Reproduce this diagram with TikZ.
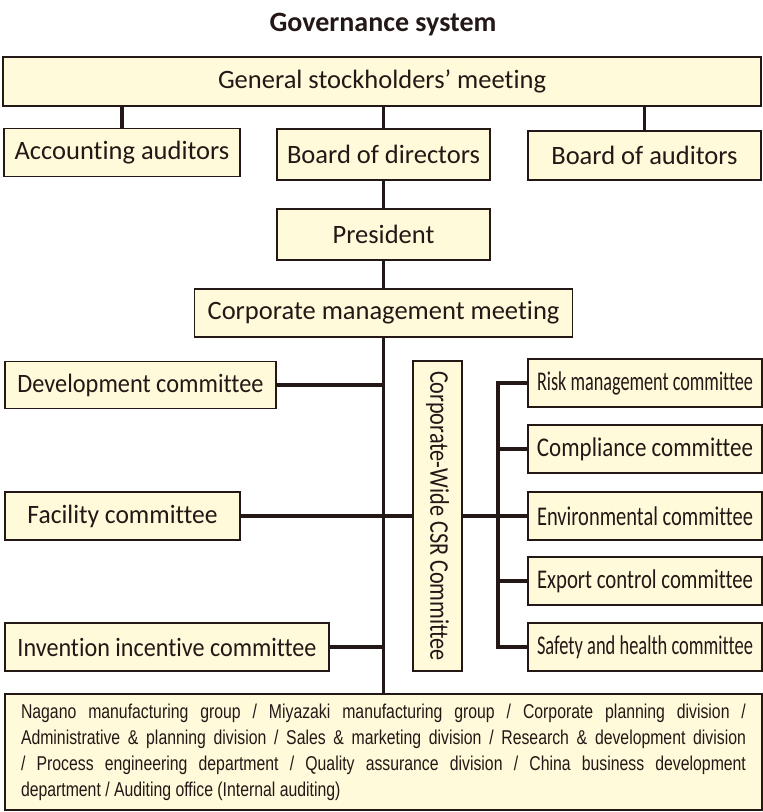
\documentclass[tikz,border=0pt]{standalone}
\usepackage{fontspec}
\setmainfont[Ligatures={TeX,NoCommon}]{Carlito}
\newfontfamily\condfont[FakeStretch=0.79]{Liberation Sans}
\usepackage{graphicx}
\usetikzlibrary{calc}

\definecolor{boxfill}{RGB}{255,250,218}
\definecolor{ink}{RGB}{35,24,21}
\newcommand{\squeeze}[2]{\resizebox{#1}{\height}{#2}}

\begin{document}
\begin{tikzpicture}[x=1pt, y=-1pt, every node/.style={text=ink},
                    box/.style={draw=ink, line width=1.5pt, fill=boxfill, inner sep=0pt,
                                font=\fontsize{26.5}{30}\selectfont},
                    link/.style={draw=ink, line width=3.2pt, line join=miter}]
\useasboundingbox (0,0) rectangle (763,812);

% Title
\node (title) at (383,25) {\fontsize{28}{32}\selectfont\bfseries Governance system};

% Top rows
\node[box, minimum width=758pt, minimum height=49pt] (gsm) at (382,81.5) {General stockholders' meeting};
\node[box, minimum width=236pt, minimum height=48pt] (acc) at (122,152.5) {Accounting auditors};
\node[box, minimum width=213pt, minimum height=51pt] (bod) at (383.5,154.5) {Board of directors};
\node[box, minimum width=233pt, minimum height=49pt] (boa) at (644.5,155.5) {Board of auditors};
\node[box, minimum width=213pt, minimum height=51pt] (pres) at (383.5,234.5) {President};
\node[box, minimum width=378pt, minimum height=48pt] (cmm) at (383.5,313) {Corporate management meeting};

% Left committees
\node[box, minimum width=271pt, minimum height=47pt] (dev) at (140.5,385) {\squeeze{246pt}{Development committee}};
\node[box, minimum width=235pt, minimum height=48pt] (fac) at (122.5,516) {\squeeze{190pt}{Facility committee}};
\node[box, minimum width=324pt, minimum height=48pt] (inv) at (167,647) {\squeeze{299pt}{Invention incentive committee}};

% CSR committee and its branches
\node[box, minimum width=49pt, minimum height=310pt] (csr) at (437.5,516)
     {\rotatebox{-90}{\squeeze{290pt}{\fontsize{27}{30}\selectfont Corporate-Wide CSR Committee}}};
\foreach \name/\y/\txt in {risk/383/Risk management committee, comp/449/Compliance committee,
                           env/516/Environmental committee, exp/581/Export control committee,
                           saf/647/Safety and health committee} {
    \node[box, minimum width=234pt, minimum height=48pt] (\name) at (645,\y)
         {\squeeze{216pt}{\fontsize{27}{30}\selectfont\txt}};
}
\coordinate (rspine) at (498,0);

% Divisions
\node[box, minimum width=757pt, minimum height=116pt, text width=725pt, align=justify,
      font=\condfont\fontsize{20}{26}\selectfont] (ops) at (383.5,752)
     {Nagano manufacturing group / Miyazaki manufacturing group / Corporate planning division /\linebreak
      Administrative \& planning division / Sales \& marketing division / Research \& development division\linebreak
      / Process engineering department / Quality assurance division / China business development\linebreak
      department / Auditing office (Internal auditing)};

% Links
\draw[link] (acc.north) -- (acc.north |- gsm.south);
\draw[link] (bod.north) -- (bod.north |- gsm.south);
\draw[link] (boa.north) -- (boa.north |- gsm.south);
\draw[link] (bod.south) -- (pres.north);
\draw[link] (pres.south) -- (cmm.north);
\draw[link] (cmm.south) -- (cmm.south |- ops.north);
\draw[link] (dev.east) -- (dev.east -| cmm.south);
\draw[link] (inv.east) -- (inv.east -| cmm.south);
\draw[link] (fac.east) -- (csr.west);
\draw[link] (csr.east) -- (env.west);
\draw[link] (risk.west) -- (risk.west -| rspine) -- (saf.west -| rspine) -- (saf.west);
\foreach \name in {comp,exp} {
    \draw[link] (\name.west) -- (\name.west -| rspine);
}

\end{tikzpicture}
\end{document}
